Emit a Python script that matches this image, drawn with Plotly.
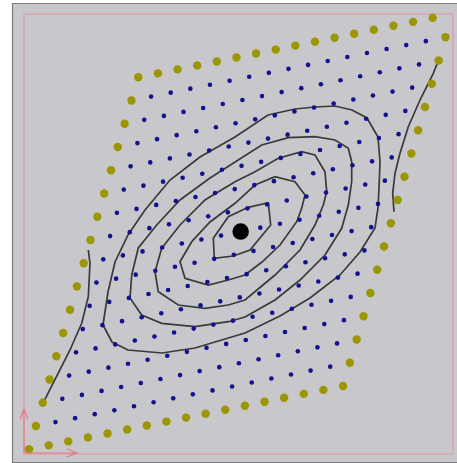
import plotly.graph_objects as go

# ---------------- data ----------------
# skewed phase-space lattice: grid indices and lattice geometry (in chart units)
grid_index = list(range(17))
lattice_origin = (138.3, 77.3)      # grid point (0, 0)
step_i = (19.625, -3.96)            # one step along i
step_j = (-6.83, 23.25)             # one step along j
center_index = (8, 8)

# traced orbit curves (chart units, y grows downward)
ring_a_x = [213.3, 228.3, 248.3, 268.3, 270.7, 250.0, 233.3, 214.3, 213.3]
ring_a_y = [238.3, 216.7, 207.3, 202.7, 225.0, 250.0, 256.0, 258.3, 238.3]

ring_b_x = [191.7, 210, 235, 255, 275, 295, 305, 301.7, 296.7, 280, 262, 245, 228.3, 208.3, 185, 180, 191.7]
ring_b_y = [241.7, 222, 203.3, 185, 176.7, 181.7, 195, 208.3, 221.7, 245, 262, 275, 280, 285, 278.3, 261.7, 241.7]

ring_c_x = [161.7, 180, 205, 235, 255, 278.3, 301.7, 315, 325, 326.7, 323.3, 315, 300, 275, 245, 228.3, 205, 178.3, 158.3, 155, 161.7]
ring_c_y = [248.3, 225, 200, 181.7, 171.7, 158.3, 151.7, 155, 171.7, 191.7, 205, 225, 250, 275, 300, 305, 308.3, 305, 291.7, 271.7, 248.3]

ring_d_x = [131.7, 138.3, 156.7, 180, 210, 235, 261.7, 288.3, 315, 335, 348.3, 351.7, 351.7, 348.3, 341.7, 325, 300, 275, 245, 228.3, 195, 161.7, 141.7, 130, 131.7]
ring_d_y = [275, 248, 225, 200, 178, 161.7, 145, 137.7, 136.7, 140, 148.3, 161.7, 181.7, 205, 228.3, 255, 280, 300, 317, 321.7, 326.7, 323.3, 315, 298, 275]

ring_e_x = [103, 108, 115, 128, 145, 170, 200, 235, 268, 295, 315, 335, 352, 367, 378, 380, 379, 378, 375, 360, 340, 310, 280, 245, 195, 162, 128, 112, 103]
ring_e_y = [325, 292, 262, 235, 210, 180, 157, 137, 115, 109, 107, 106, 110, 118, 137, 162, 188, 208, 228, 252, 275, 298, 316, 333, 348, 353, 350, 342, 325]

arc_left_x = [88.3, 90.0, 88.3, 81.7, 70.0, 58.3, 50.0, 43.3]
arc_left_y = [250.0, 263.3, 296.7, 323.3, 350.0, 373.3, 390.0, 402.7]

arc_right_x = [438.3, 433.3, 420.0, 408.3, 400.0, 395.0, 392.7, 394.0]
arc_right_y = [60.7, 73.3, 100.0, 126.7, 153.3, 173.3, 193.3, 211.7]

# ---------------- build lattice ----------------
edge_x, edge_y, in_x, in_y = [], [], [], []
cx = cy = None
last = grid_index[-1]
for i in grid_index:
    for j in grid_index:
        x = lattice_origin[0] + i * step_i[0] + j * step_j[0]
        y = lattice_origin[1] + i * step_i[1] + j * step_j[1]
        if (i, j) == center_index:
            cx, cy = x, y
        elif i in (0, last) or j in (0, last):
            edge_x.append(x); edge_y.append(y)
        else:
            in_x.append(x); in_y.append(y)

W, H = 457, 463
L, R, T, B = 24, 4, 14, 9
x0, x1 = L, W - R          # chart units coincide with page pixels
y0, y1 = T, H - B

fig = go.Figure()

curve_style = dict(color="#3a3a3a", width=1.7)
for xs, ys in [(ring_e_x, ring_e_y), (ring_d_x, ring_d_y), (ring_c_x, ring_c_y),
               (ring_b_x, ring_b_y), (ring_a_x, ring_a_y),
               (arc_left_x, arc_left_y), (arc_right_x, arc_right_y)]:
    fig.add_trace(go.Scatter(x=xs, y=ys, mode="lines", line=curve_style,
                             hoverinfo="skip", cliponaxis=False))

fig.add_trace(go.Scatter(x=in_x, y=in_y, mode="markers",
                         marker=dict(size=4.6, color="#12128f"), cliponaxis=False))
fig.add_trace(go.Scatter(x=edge_x, y=edge_y, mode="markers",
                         marker=dict(size=8.4, color="#9c9606"), cliponaxis=False))
fig.add_trace(go.Scatter(x=[cx], y=[cy], mode="markers",
                         marker=dict(size=16.5, color="#000000"), cliponaxis=False))


def px(v):
    return (v - x0) / (x1 - x0)


def py(v):
    return (y1 - v) / (y1 - y0)


shapes = [
    # outer panel
    dict(type="rect", xref="paper", yref="paper", layer="below",
         x0=px(12.5), x1=px(460), y0=py(462.5), y1=py(3.5),
         fillcolor="#c8c7cb", line=dict(color="#7d7d7d", width=1.2)),
    # inner frame
    dict(type="rect", xref="paper", yref="paper", layer="below",
         x0=0, x1=1, y0=0, y1=1,
         line=dict(color="#dc98a0", width=1.1)),
]
arrow = dict(color="#ea7684", width=1.1)
shapes.append(dict(type="path", xref="paper", yref="paper", line=arrow,
                   path=f"M {px(24)} {py(453)} L {px(77)} {py(453)} "
                        f"M {px(67)} {py(449)} L {px(77)} {py(453)} L {px(67)} {py(457)}"))
shapes.append(dict(type="path", xref="paper", yref="paper", line=arrow,
                   path=f"M {px(24)} {py(453)} L {px(24)} {py(409)} "
                        f"M {px(20)} {py(419)} L {px(24)} {py(409)} L {px(28)} {py(419)}"))

fig.update_layout(
    width=W, height=H,
    margin=dict(l=L, r=R, t=T, b=B, pad=0),
    paper_bgcolor="#ffffff",
    plot_bgcolor="rgba(0,0,0,0)",
    showlegend=False,
    shapes=shapes,
    xaxis=dict(range=[x0, x1], visible=False, fixedrange=True),
    yaxis=dict(range=[y1, y0], visible=False, fixedrange=True),
)

fig.write_html("out.html", config={"displayModeBar": False},
               post_script="document.body.style.margin='0';"
                           "document.body.style.overflow='hidden';")
